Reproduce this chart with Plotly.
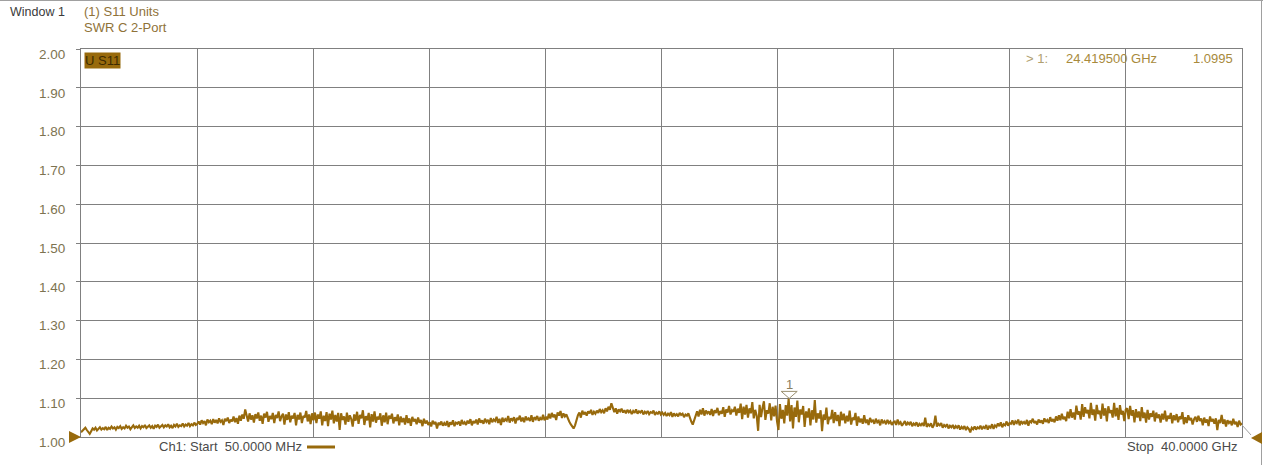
import numpy as np
import plotly.graph_objects as go

# ---- data ----
start_ghz = 0.05
stop_ghz = 40.0
y_ticks = [1.00, 1.10, 1.20, 1.30, 1.40, 1.50, 1.60, 1.70, 1.80, 1.90, 2.00]
marker_freq = 24.4195
marker_swr = 1.0995

swr = [
    1.012, 1.016, 1.020, 1.024, 1.018, 1.014, 1.008, 1.015, 1.022, 1.019,
    1.024, 1.017, 1.021, 1.025, 1.019, 1.023, 1.020, 1.026, 1.018, 1.024,
    1.021, 1.027, 1.022, 1.025, 1.019, 1.026, 1.023, 1.028, 1.021, 1.025,
    1.022, 1.029, 1.024, 1.027, 1.020, 1.026, 1.030, 1.023, 1.027, 1.024,
    1.029, 1.022, 1.028, 1.025, 1.031, 1.023, 1.027, 1.030, 1.024, 1.028,
    1.021, 1.029, 1.026, 1.032, 1.024, 1.028, 1.031, 1.025, 1.030, 1.027,
    1.033, 1.025, 1.029, 1.023, 1.031, 1.027, 1.034, 1.026, 1.030, 1.028,
    1.035, 1.027, 1.032, 1.029, 1.036, 1.028, 1.033, 1.030, 1.037, 1.031,
    1.034, 1.040, 1.032, 1.043, 1.036, 1.041, 1.030, 1.045, 1.038, 1.042,
    1.033, 1.046, 1.037, 1.044, 1.035, 1.048, 1.039, 1.043, 1.031, 1.047,
    1.041, 1.050, 1.036, 1.045, 1.040, 1.053, 1.038, 1.049, 1.034, 1.055,
    1.042, 1.058, 1.047, 1.071, 1.052, 1.040, 1.061, 1.045, 1.056, 1.037,
    1.059, 1.048, 1.063, 1.042, 1.055, 1.034, 1.060, 1.050, 1.065, 1.039,
    1.054, 1.046, 1.062, 1.036, 1.057, 1.049, 1.066, 1.041, 1.053, 1.060,
    1.032, 1.058, 1.044, 1.064, 1.038, 1.055, 1.048, 1.062, 1.030, 1.057,
    1.045, 1.063, 1.036, 1.054, 1.050, 1.067, 1.040, 1.058, 1.033, 1.061,
    1.043, 1.063, 1.036, 1.058, 1.047, 1.066, 1.030, 1.055, 1.041, 1.064,
    1.028, 1.060, 1.045, 1.068, 1.035, 1.057, 1.040, 1.062, 1.018, 1.061,
    1.044, 1.053, 1.032, 1.063, 1.039, 1.056, 1.046, 1.027, 1.058, 1.042,
    1.065, 1.034, 1.057, 1.048, 1.069, 1.031, 1.054, 1.043, 1.062, 1.025,
    1.059, 1.040, 1.066, 1.037, 1.052, 1.045, 1.061, 1.029, 1.056, 1.038,
    1.063, 1.033, 1.055, 1.047, 1.060, 1.035, 1.051, 1.041, 1.058, 1.030,
    1.053, 1.038, 1.049, 1.032, 1.056, 1.036, 1.048, 1.029, 1.052, 1.040,
    1.046, 1.033, 1.050, 1.037, 1.044, 1.028, 1.047, 1.035, 1.042, 1.031,
    1.038, 1.027, 1.042, 1.033, 1.039, 1.022, 1.037, 1.031, 1.040, 1.029,
    1.036, 1.030, 1.041, 1.026, 1.038, 1.032, 1.043, 1.028, 1.037, 1.034,
    1.040, 1.029, 1.044, 1.033, 1.038, 1.031, 1.042, 1.035, 1.046, 1.030,
    1.041, 1.036, 1.045, 1.032, 1.048, 1.037, 1.043, 1.034, 1.047, 1.039,
    1.044, 1.033, 1.049, 1.038, 1.045, 1.041, 1.052, 1.036, 1.047, 1.031,
    1.050, 1.039, 1.046, 1.042, 1.054, 1.037, 1.048, 1.043, 1.051, 1.035,
    1.049, 1.044, 1.055, 1.040, 1.050, 1.038, 1.053, 1.045, 1.048, 1.041,
    1.056, 1.039, 1.051, 1.046, 1.054, 1.042, 1.049, 1.044, 1.057, 1.043,
    1.052, 1.045, 1.060, 1.048, 1.062, 1.051, 1.058, 1.044, 1.063, 1.055,
    1.067, 1.049, 1.061, 1.053, 1.058, 1.046, 1.040, 1.033, 1.027, 1.022,
    1.030, 1.045, 1.056, 1.063, 1.050, 1.068, 1.058, 1.064, 1.055, 1.066,
    1.061, 1.070, 1.057, 1.065, 1.060, 1.068, 1.062, 1.072, 1.064, 1.069,
    1.061, 1.074, 1.066, 1.078, 1.070, 1.087, 1.075, 1.064, 1.074, 1.060,
    1.071, 1.066, 1.073, 1.063, 1.069, 1.061, 1.070, 1.064, 1.068, 1.059,
    1.067, 1.062, 1.071, 1.060, 1.066, 1.063, 1.069, 1.058, 1.065, 1.061,
    1.067, 1.059, 1.064, 1.062, 1.068, 1.057, 1.063, 1.060, 1.066, 1.058,
    1.063, 1.057, 1.062, 1.054, 1.060, 1.056, 1.064, 1.052, 1.061, 1.055,
    1.059, 1.053, 1.062, 1.057, 1.060, 1.051, 1.058, 1.055, 1.061, 1.048,
    1.040, 1.032, 1.045, 1.060, 1.066, 1.053, 1.070, 1.058, 1.074, 1.055,
    1.068, 1.061, 1.066, 1.057, 1.072, 1.054, 1.069, 1.062, 1.075, 1.056,
    1.067, 1.060, 1.077, 1.052, 1.071, 1.063, 1.080, 1.058, 1.069, 1.065,
    1.078, 1.055, 1.073, 1.062, 1.086, 1.046, 1.078, 1.058, 1.083, 1.050,
    1.074, 1.061, 1.090, 1.048, 1.070, 1.055, 1.016, 1.083, 1.051, 1.075,
    1.092, 1.044, 1.069, 1.060, 1.087, 1.043, 1.078, 1.053, 1.081, 1.040,
    1.018, 1.085, 1.047, 1.070, 1.035, 1.082, 1.055, 1.099, 1.040, 1.082,
    1.022, 1.076, 1.052, 1.094, 1.038, 1.071, 1.058, 1.080, 1.026, 1.066,
    1.050, 1.074, 1.030, 1.069, 1.045, 1.095, 1.037, 1.061, 1.048, 1.069,
    1.015, 1.058, 1.044, 1.076, 1.033, 1.052, 1.046, 1.070, 1.036, 1.064,
    1.041, 1.057, 1.028, 1.065, 1.043, 1.060, 1.035, 1.055, 1.040, 1.068,
    1.032, 1.050, 1.044, 1.062, 1.029, 1.053, 1.038, 1.047, 1.034, 1.056,
    1.036, 1.045, 1.031, 1.049, 1.040, 1.043, 1.034, 1.047, 1.038, 1.042,
    1.030, 1.045, 1.037, 1.041, 1.033, 1.044, 1.036, 1.040, 1.031, 1.038,
    1.040, 1.031, 1.045, 1.034, 1.038, 1.029, 1.036, 1.041, 1.030, 1.037,
    1.033, 1.039, 1.028, 1.035, 1.031, 1.038, 1.027, 1.034, 1.030, 1.036,
    1.028, 1.050, 1.026, 1.033, 1.029, 1.035, 1.024, 1.031, 1.055, 1.027,
    1.034, 1.030, 1.036, 1.024, 1.031, 1.027, 1.033, 1.022, 1.029, 1.025,
    1.031, 1.021, 1.028, 1.024, 1.030, 1.019, 1.026, 1.022, 1.028, 1.018,
    1.025, 1.021, 1.012, 1.024, 1.020, 1.027, 1.019, 1.025, 1.022, 1.029,
    1.020, 1.026, 1.023, 1.031, 1.019, 1.027, 1.024, 1.033, 1.021, 1.030,
    1.026, 1.035, 1.028, 1.038, 1.025, 1.033, 1.030, 1.040, 1.029, 1.036,
    1.034, 1.043, 1.031, 1.040, 1.036, 1.045, 1.030, 1.041, 1.035, 1.039,
    1.033, 1.044, 1.029, 1.042, 1.038, 1.047, 1.036, 1.041, 1.032, 1.045,
    1.037, 1.043, 1.034, 1.048, 1.039, 1.044, 1.036, 1.051, 1.040, 1.046,
    1.038, 1.053, 1.042, 1.056, 1.043, 1.060, 1.046, 1.052, 1.041, 1.065,
    1.048, 1.072, 1.050, 1.063, 1.045, 1.081, 1.058, 1.066, 1.045, 1.085,
    1.052, 1.077, 1.061, 1.070, 1.048, 1.088, 1.057, 1.071, 1.042, 1.083,
    1.059, 1.068, 1.047, 1.086, 1.055, 1.074, 1.040, 1.079, 1.062, 1.069,
    1.050, 1.088, 1.053, 1.075, 1.044, 1.082, 1.058, 1.067, 1.041, 1.071,
    1.074, 1.046, 1.080, 1.055, 1.069, 1.038, 1.072, 1.050, 1.066, 1.041,
    1.077, 1.049, 1.063, 1.037, 1.070, 1.045, 1.061, 1.052, 1.068, 1.040,
    1.063, 1.049, 1.058, 1.037, 1.060, 1.045, 1.068, 1.040, 1.055, 1.047,
    1.062, 1.035, 1.056, 1.043, 1.059, 1.038, 1.053, 1.046, 1.064, 1.033,
    1.051, 1.036, 1.056, 1.043, 1.049, 1.032, 1.046, 1.052, 1.039, 1.055,
    1.041, 1.048, 1.030, 1.050, 1.037, 1.045, 1.028, 1.053, 1.040, 1.046,
    1.034, 1.048, 1.018, 1.044, 1.036, 1.057, 1.034, 1.045, 1.027, 1.043,
    1.036, 1.041, 1.030, 1.047, 1.033, 1.039, 1.026, 1.042, 1.032, 1.035,
]
freq = np.linspace(start_ghz, stop_ghz, len(swr))

# ---- style ----
W, H = 1263, 465
L, R, T, B = 81, 1242, 49, 437
TRACE = "#986a0c"
GRID = "#808080"
LABEL = "#7d7350"
HEAD = "#8f7238"
READ = "#a88a3c"
FONT = "Liberation Sans, Arial, sans-serif"


def px(xp):
    return (xp - L) / (R - L)


def py(yp):
    return (B - yp) / (B - T)


fig = go.Figure()
fig.add_trace(go.Scatter(x=freq, y=swr, mode="lines",
                         line=dict(color=TRACE, width=2.1),
                         hoverinfo="skip", showlegend=False))

fig.update_layout(
    width=W, height=H,
    margin=dict(l=L, r=W - R, t=T, b=H - B),
    paper_bgcolor="white", plot_bgcolor="white",
    font=dict(family=FONT, size=13, color=LABEL),
    showlegend=False,
)
fig.update_xaxes(range=[start_ghz, stop_ghz], tick0=start_ghz,
                 dtick=(stop_ghz - start_ghz) / 10, showticklabels=False,
                 showgrid=True, gridcolor=GRID, gridwidth=1,
                 showline=True, linecolor=GRID, linewidth=1, mirror=True,
                 zeroline=False, ticks="")
fig.update_yaxes(range=[1.0, 2.0], tickvals=y_ticks, tickformat=".2f",
                 showgrid=True, gridcolor=GRID, gridwidth=1,
                 showline=True, linecolor=GRID, linewidth=1, mirror=True,
                 zeroline=False, ticks="outside", ticklen=4, tickcolor=GRID,
                 tickfont=dict(family=FONT, size=13.5, color=LABEL),
                 ticklabelstandoff=8, ticklabelshift=5)

shapes = []
# image border lines (top / right)
shapes.append(dict(type="line", xref="paper", yref="paper",
                   x0=px(0), x1=px(W), y0=py(0.5), y1=py(0.5),
                   line=dict(color="#a0a0a0", width=1)))
shapes.append(dict(type="line", xref="paper", yref="paper",
                   x0=px(W - 1.5), x1=px(W - 1.5), y0=py(0), y1=py(H),
                   line=dict(color="#a0a0a0", width=1)))
# reference level triangles (at the 1.00 reference line, both ends)
shapes.append(dict(type="path", xref="paper", yref="paper", xsizemode="pixel", ysizemode="pixel",
                   xanchor=0, yanchor=0,
                   path="M -12,6 L 0,0 L -12,-6 Z",
                   fillcolor=TRACE, line=dict(color=TRACE, width=0)))
shapes.append(dict(type="path", xref="paper", yref="paper", xsizemode="pixel", ysizemode="pixel",
                   xanchor=1, yanchor=0,
                   path="M 9,-1 L 20,5 L 20,-7 Z",
                   fillcolor=TRACE, line=dict(color=TRACE, width=0)))
shapes.append(dict(type="path", xref="paper", yref="paper", xsizemode="pixel", ysizemode="pixel",
                   xanchor=1, yanchor=0,
                   path="M 0,12 L 9,2",
                   line=dict(color="#a0a0a0", width=1)))
# marker 1 triangle
shapes.append(dict(type="path", xref="x", yref="y", xsizemode="pixel", ysizemode="pixel",
                   xanchor=marker_freq, yanchor=marker_swr,
                   path="M -8,7 L 8,7 L 0,0 Z",
                   fillcolor="rgba(255,255,255,0.6)", line=dict(color="#9a9070", width=1)))
# legend line at bottom
shapes.append(dict(type="line", xref="paper", yref="paper",
                   x0=px(307), x1=px(335), y0=py(447), y1=py(447),
                   line=dict(color=TRACE, width=3)))
fig.update_layout(shapes=shapes)

ann = []


def text(x, y, s, color, xanchor="left", size=13, **kw):
    ann.append(dict(x=px(x), y=py(y), xref="paper", yref="paper", text=s,
                    showarrow=False, xanchor=xanchor, yanchor="middle",
                    font=dict(family=FONT, size=size, color=color), **kw))


text(8, 12, "Window 1", "#3a3a3a", size=12.5)
text(82, 12, "(1) S11 Units", HEAD)
text(82, 28, "SWR C 2-Port", HEAD)
text(84, 60, "U S11", "#3d2a00", bgcolor=TRACE, borderpad=0)
text(1024, 58, "&gt; 1:", "#b0a070")
text(1064, 58, "24.419500 GHz", READ)
text(1235, 58, "1.0995", READ, xanchor="right")
text(157, 447, "Ch1: Start  50.0000 MHz", "#4a4a4a")
text(1240, 447, "Stop  40.0000 GHz", "#4a4a4a", xanchor="right")
ann.append(dict(x=marker_freq, y=marker_swr, xref="x", yref="y", text="1",
                showarrow=False, yshift=4, yanchor="bottom",
                font=dict(family=FONT, size=13, color="#8a8060")))
fig.update_layout(annotations=ann)

fig.write_html("out.html", config={"displayModeBar": False},
               post_script="document.body.style.margin='0';")
